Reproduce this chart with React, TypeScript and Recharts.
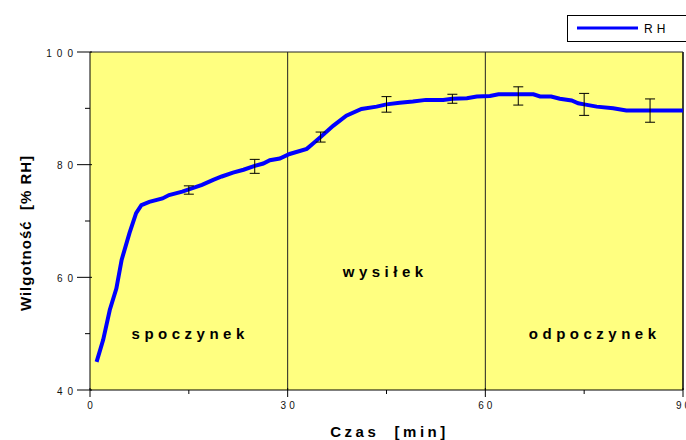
import React from 'react';
import {
  ComposedChart,
  Line,
  Scatter,
  ErrorBar,
  XAxis,
  YAxis,
  CartesianGrid,
  ReferenceLine,
  ReferenceDot
} from 'recharts';

// czas [min] i wilgotność [% RH]
const czas = [1, 2, 3, 4, 4.8, 6, 7, 7.8, 9, 11, 12, 14, 15, 17, 18.7, 20, 21.7, 23.3, 25, 26.3, 27.3, 28.8, 30.3, 32.9, 33.9, 35, 36.9, 38.9, 41.2, 43.5, 45, 47, 49, 51, 53.6, 55, 57.2, 58.7, 60.7, 62, 65, 67.3, 68.3, 70, 71.3, 73.1, 74.1, 75, 76.9, 79.4, 81.4, 85, 90];
const rh = [45.0, 48.9, 54.2, 58.0, 63.1, 67.9, 71.4, 72.8, 73.4, 74.0, 74.6, 75.2, 75.6, 76.4, 77.3, 77.9, 78.6, 79.1, 79.8, 80.2, 80.8, 81.1, 81.9, 82.8, 83.8, 84.9, 86.9, 88.7, 89.9, 90.3, 90.7, 91.0, 91.2, 91.5, 91.5, 91.7, 91.8, 92.1, 92.2, 92.5, 92.5, 92.5, 92.1, 92.1, 91.7, 91.4, 90.9, 90.7, 90.3, 90.0, 89.6, 89.6, 89.6];

// słupki błędów
const errCzas = [15, 25, 35, 45, 55, 65, 75, 85];
const errRh = [75.5, 79.7, 84.9, 90.7, 91.7, 92.2, 90.7, 89.6];
const errVal = [0.74, 1.24, 0.89, 1.38, 0.8, 1.62, 1.95, 2.07];

const xTicks = [0, 15, 30, 45, 60, 75, 90];
const yTicks = [40, 50, 60, 70, 80, 90, 100];
const xLabeled = [0, 30, 60, 90];
const yLabeled = [40, 60, 80, 100];

const fazy = [
  { name: 'spoczynek', x: 15.2, y: 50 },
  { name: 'wysiłek', x: 44.8, y: 61 },
  { name: 'odpoczynek', x: 76.6, y: 50 }
];

const data = czas.map((t, i) => ({ t, rh: rh[i] }));
const errData = errCzas.map((t, i) => ({ t, rh: errRh[i], err: errVal[i] }));

const FONT = '"Liberation Sans", Arial, sans-serif';

const YTick = (props: any) => {
  const { x, y, payload } = props;
  const major = yLabeled.includes(payload.value);
  return (
    <g>
      <line x1={major ? x - 13 : x - 5} x2={major ? x + 2 : x} y1={y} y2={y} stroke="#000" />
      {major && (
        <text x={x - 12} y={y} dy={4.5} textAnchor="end" fontSize={10} fontFamily={FONT} letterSpacing={5} fill="#111">
          {payload.value}
        </text>
      )}
    </g>
  );
};

const XTick = (props: any) => {
  const { x, y, payload } = props;
  const major = xLabeled.includes(payload.value);
  return (
    <g>
      <line x1={x} x2={x} y1={major ? y - 2 : y} y2={major ? y + 7 : y + 4} stroke="#000" />
      {major && (
        <text x={x} y={y} dy={19} dx={1.5} textAnchor="middle" fontSize={10} fontFamily={FONT} letterSpacing={3} fill="#111">
          {payload.value}
        </text>
      )}
    </g>
  );
};

const NoShape = () => <g />;

function Legenda() {
  return (
    <div
      style={{
        position: 'absolute',
        left: 567,
        top: 15,
        width: 140,
        height: 27,
        border: '1px solid #000',
        background: '#fff',
        boxSizing: 'border-box'
      }}
    >
      <svg width={140} height={25} style={{ position: 'absolute', left: 0, top: 0 }}>
        <line x1={9} x2={70} y1={12} y2={12} stroke="#0000ff" strokeWidth={3} />
        <text x={76} y={17} fontSize={12} fontFamily={FONT} letterSpacing={4} fill="#000">RH</text>
      </svg>
    </div>
  );
}

export default function App() {
  return (
    <div style={{ position: 'fixed', left: 0, top: 0, width: 686, height: 440, background: '#fff', overflow: 'hidden' }}>
      <ComposedChart
        width={686}
        height={440}
        data={data}
        margin={{ top: 52, right: 3, left: 0, bottom: 0 }}
      >
        <CartesianGrid fill="#ffff80" fillOpacity={1} horizontal={false} vertical={false} />
        <XAxis
          dataKey="t"
          type="number"
          domain={[0, 90]}
          ticks={xTicks}
          height={50}
          tickSize={0}
          tickMargin={0}
          tickLine={false}
          tick={<XTick />}
          axisLine={{ stroke: '#000' }}
          interval={0}
          label={{
            content: ({ viewBox }: any) => (
              <text
                x={viewBox.x + viewBox.width / 2 + 3}
                y={viewBox.y + 47}
                textAnchor="middle"
                fontSize={15}
                fontWeight="bold"
                fontFamily={FONT}
                letterSpacing={3.5}
                style={{ whiteSpace: 'pre' }}
                fill="#000"
              >
                {'Czas  [min]'}
              </text>
            )
          }}
        />
        <YAxis
          type="number"
          domain={[40, 100]}
          ticks={yTicks}
          width={90}
          tickSize={0}
          tickMargin={0}
          tickLine={false}
          tick={<YTick />}
          axisLine={{ stroke: '#000' }}
          interval={0}
          label={{
            content: ({ viewBox }: any) => {
              const cx = viewBox.x + 31;
              const cy = viewBox.y + viewBox.height / 2 + 12;
              return (
                <text
                  x={cx}
                  y={cy}
                  transform={`rotate(-90 ${cx} ${cy})`}
                  textAnchor="middle"
                  fontSize={15}
                  fontWeight="bold"
                  fontFamily={FONT}
                  letterSpacing={1}
                  style={{ whiteSpace: 'pre' }}
                  fill="#000"
                >
                  {'Wilgotność  [% RH]'}
                </text>
              );
            }
          }}
        />
        <ReferenceLine x={30} stroke="#222" strokeWidth={1} />
        <ReferenceLine x={60} stroke="#222" strokeWidth={1} />
        <ReferenceLine x={90} stroke="#000" strokeWidth={1.5} />
        <ReferenceLine y={100} stroke="#222" strokeWidth={1} />
        {fazy.map((f) => (
          <ReferenceDot
            key={f.name}
            x={f.x}
            y={f.y}
            r={0}
            stroke="none"
            fill="none"
            label={{
              value: f.name,
              position: 'center',
              fontSize: 15,
              fontWeight: 'bold',
              fontFamily: FONT,
              letterSpacing: 4.5,
              fill: '#000'
            }}
          />
        ))}
        <Line
          type="linear"
          dataKey="rh"
          stroke="#0000ff"
          strokeWidth={4}
          dot={false}
          activeDot={false}
          isAnimationActive={false}
        />
        <Scatter data={errData} dataKey="rh" shape={NoShape} isAnimationActive={false}>
          <ErrorBar dataKey="err" direction="y" width={5} stroke="#000" strokeWidth={1} />
        </Scatter>
      </ComposedChart>
      <Legenda />
    </div>
  );
}
